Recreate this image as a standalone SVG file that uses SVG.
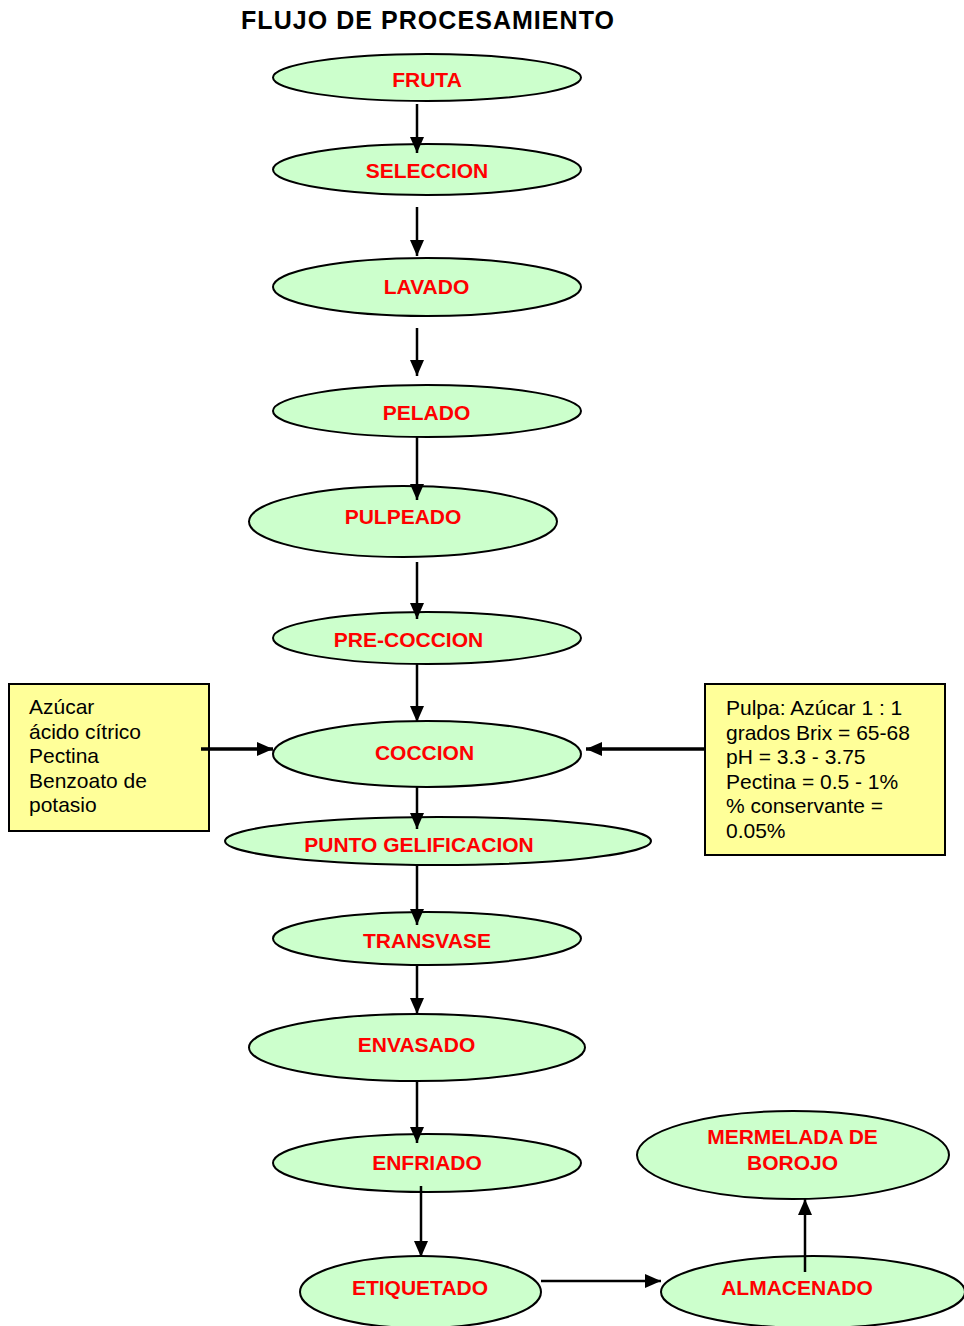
<svg xmlns="http://www.w3.org/2000/svg" width="964" height="1326" viewBox="0 0 964 1326">
<style>
.n ellipse{fill:#CCFFCC;stroke:#000;stroke-width:2}
.n text{font-family:"Liberation Sans",Arial,sans-serif;font-weight:bold;font-size:21px;fill:#FF0000;text-anchor:middle}
.b rect{fill:#FFFF99;stroke:#000;stroke-width:2}
.b text{font-family:"Liberation Sans",Arial,sans-serif;font-size:21px;fill:#000}
.c line{stroke:#000;stroke-width:2.5;marker-end:url(#ah)}
.c line.w{stroke-width:3.5}
.t{font-family:"Liberation Sans",Arial,sans-serif;font-weight:bold;font-size:25px;fill:#000}
</style>
<defs>
<marker id="ah" markerUnits="userSpaceOnUse" markerWidth="16" markerHeight="16" viewBox="0 0 16 16" refX="16" refY="8" orient="auto">
<path d="M0,1 L16,8 L0,15 z" fill="#000"/>
</marker>
</defs>
<rect width="964" height="1326" fill="#fff"/>
<text class="t" x="241" y="29" textLength="373" lengthAdjust="spacing">FLUJO DE PROCESAMIENTO</text>

<g id="fruta" class="n"><ellipse cx="427" cy="77.5" rx="154" ry="23.5"/><text x="427" y="86.5">FRUTA</text></g>
<g id="seleccion" class="n"><ellipse cx="427" cy="169.5" rx="154" ry="25.5"/><text x="427" y="177.5">SELECCION</text></g>
<g id="lavado" class="n"><ellipse cx="427" cy="287" rx="154" ry="29"/><text x="426.5" y="293.5">LAVADO</text></g>
<g id="pelado" class="n"><ellipse cx="427" cy="411" rx="154" ry="26"/><text x="426.5" y="419.5">PELADO</text></g>
<g id="pulpeado" class="n"><ellipse cx="403" cy="521.5" rx="154" ry="35.5"/><text x="403" y="523.5">PULPEADO</text></g>
<g id="precoccion" class="n"><ellipse cx="427" cy="638" rx="154" ry="26"/><text x="408.5" y="646.5">PRE-COCCION</text></g>
<g id="coccion" class="n"><ellipse cx="427" cy="754" rx="154" ry="33"/><text x="424.5" y="759.5">COCCION</text></g>
<g id="punto" class="n"><ellipse cx="438" cy="841" rx="213" ry="24"/><text x="419" y="851.5">PUNTO GELIFICACION</text></g>
<g id="transvase" class="n"><ellipse cx="427" cy="938.5" rx="154" ry="26.5"/><text x="427" y="947.5">TRANSVASE</text></g>
<g id="envasado" class="n"><ellipse cx="417" cy="1047.5" rx="168" ry="33.5"/><text x="416.5" y="1051.5">ENVASADO</text></g>
<g id="enfriado" class="n"><ellipse cx="427" cy="1163" rx="154" ry="29"/><text x="427" y="1169.5">ENFRIADO</text></g>
<g id="etiquetado" class="n"><ellipse cx="420.5" cy="1292" rx="120.5" ry="36"/><text x="420" y="1294.5">ETIQUETADO</text></g>
<g id="almacenado" class="n"><ellipse cx="813" cy="1292" rx="152" ry="36"/><text x="797" y="1294.5">ALMACENADO</text></g>
<g id="mermelada" class="n"><ellipse cx="793" cy="1155" rx="156" ry="44"/><text x="792.5" y="1143.5">MERMELADA DE</text><text x="792.5" y="1169.5">BOROJO</text></g>

<g id="ingredientes" class="b"><rect x="9" y="684" width="200" height="147"/>
<text x="29" y="714">Azúcar</text><text x="29" y="738.5">ácido cítrico</text><text x="29" y="763">Pectina</text><text x="29" y="787.5">Benzoato de</text><text x="29" y="812">potasio</text></g>
<g id="parametros" class="b"><rect x="705" y="684" width="240" height="171"/>
<text x="726" y="715">Pulpa: Azúcar 1 : 1</text><text x="726" y="739.5">grados Brix = 65-68</text><text x="726" y="764">pH = 3.3 - 3.75</text><text x="726" y="788.5">Pectina = 0.5 - 1%</text><text x="726" y="813">% conservante =</text><text x="726" y="837.5">0.05%</text></g>

<g id="connectors" class="c">
<line x1="417" y1="104" x2="417" y2="153"/>
<line x1="417" y1="207" x2="417" y2="256"/>
<line x1="417" y1="328" x2="417" y2="376"/>
<line x1="417" y1="437" x2="417" y2="500"/>
<line x1="417" y1="562" x2="417" y2="619"/>
<line x1="417" y1="664" x2="417" y2="722"/>
<line x1="417" y1="787" x2="417" y2="829"/>
<line x1="417" y1="865" x2="417" y2="925"/>
<line x1="417" y1="965" x2="417" y2="1014"/>
<line x1="417" y1="1081" x2="417" y2="1143"/>
<line x1="421" y1="1186" x2="421" y2="1257"/>
<line x1="541" y1="1281" x2="661" y2="1281"/>
<line x1="805" y1="1272" x2="805" y2="1199"/>
<line class="w" x1="201" y1="749" x2="273" y2="749"/>
<line class="w" x1="705" y1="749" x2="586" y2="749"/>
</g>
</svg>
